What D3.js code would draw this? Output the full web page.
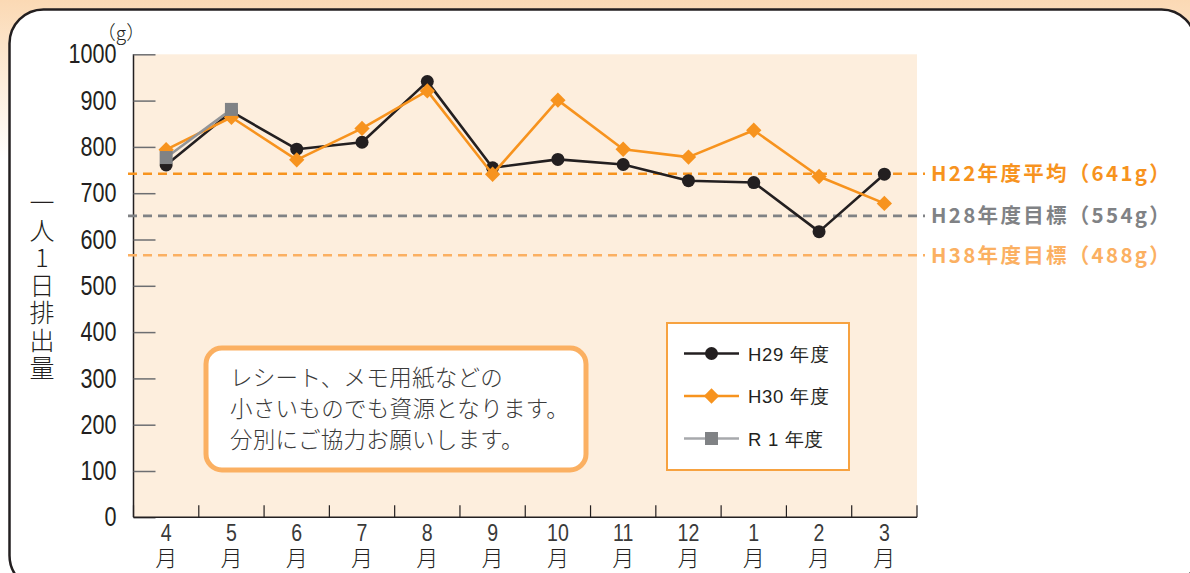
<!DOCTYPE html>
<html>
<head>
<meta charset="utf-8">
<script src="https://cdn.jsdelivr.net/npm/d3@7"></script>
<style>
  html, body { margin: 0; padding: 0; background: #fff; }
  svg { display: block; }
</style>
</head>
<body>
<svg id="chart" width="1190" height="573"></svg>
<script>
// data
var months = ['4', '5', '6', '7', '8', '9', '10', '11', '12', '1', '2', '3'];
var h29 = [761, 876, 795, 810, 941, 755, 773, 762, 727, 723, 617, 741];
var h30 = [794, 864, 772, 840, 921, 741, 901, 795, 778, 836, 736, 678];
var r1 = [777, 881];
var yTicks = [0, 100, 200, 300, 400, 500, 600, 700, 800, 900, 1000];
// dashed reference lines (position as drawn, label as printed)
var refValues = [742, 651, 566];
var refLabels = ['H22年度平均（641g）', 'H28年度目標（554g）', 'H38年度目標（488g）'];
var refColors = ['#f7931e', '#808285', '#fbb062'];
var seriesNames = ['H29 年度', 'H30 年度', 'R 1 年度'];
var noteLines = ['レシート、メモ用紙などの', '小さいものでも資源となります。', '分別にご協力お願いします。'];
var yTitle = '一人1日排出量';

var svg = d3.select('#chart');
var W = 1190, H = 573;
// plot box (window.top is read-only, so no "top" here)
var plotLeft = 133.5, plotRight = 917, plotTop = 54.3, plotBottom = 517.3;

var cjk = '"Noto Sans CJK JP", sans-serif';
var latin = '"Liberation Sans", Arial, sans-serif';

// background gradient outside the frame
var defs = svg.append('defs');
var grad = defs.append('linearGradient').attr('id', 'bg').attr('x1', 0).attr('y1', 0).attr('x2', 0).attr('y2', 1);
grad.append('stop').attr('offset', '0%').attr('stop-color', '#fbd9b4');
grad.append('stop').attr('offset', '28%').attr('stop-color', '#ffffff');
svg.append('rect').attr('width', W).attr('height', H).attr('fill', 'url(#bg)');

// rounded frame
svg.append('rect')
	.attr('x', 9.5).attr('y', 9.5)
	.attr('width', 1186).attr('height', 580)
	.attr('rx', 34).attr('ry', 34)
	.attr('fill', '#fff')
	.attr('stroke', '#231f20')
	.attr('stroke-width', 2.5);

var x = d3.scaleBand().domain(months.map(function(m, i) { return i; })).range([plotLeft, plotRight]);
var y = d3.scaleLinear().domain([0, 1000]).range([plotBottom, plotTop]);
function cx(d, i) { return x(i) + x.bandwidth() / 2; }

// plot background
svg.append('rect')
	.attr('x', plotLeft).attr('y', plotTop)
	.attr('width', plotRight - plotLeft).attr('height', plotBottom - plotTop)
	.attr('fill', '#fdeedd');

// y axis
var yAxis = svg.append('g')
	.attr('transform', 'translate(' + plotLeft + ',0)')
	.call(d3.axisRight(y).tickValues(yTicks).tickSize(22).tickFormat(d3.format('d')));
yAxis.select('.domain').attr('stroke', '#231f20').attr('stroke-width', 1.5).attr('d', 'M0,' + plotTop + 'V' + plotBottom);
yAxis.selectAll('.tick line').attr('stroke', '#6d6e71').attr('stroke-width', 1.5);
yAxis.selectAll('.tick text')
	.attr('x', -17 / 0.8)
	.attr('text-anchor', 'end')
	.attr('transform', 'scale(0.8,1)')
	.attr('font-family', latin)
	.attr('font-size', 27)
	.attr('fill', '#231f20');

// x axis
var xAxis = svg.append('g')
	.attr('transform', 'translate(0,' + plotBottom + ')');
xAxis.append('line')
	.attr('x1', plotLeft).attr('x2', plotRight)
	.attr('stroke', '#231f20').attr('stroke-width', 1.5);
xAxis.selectAll('line.tk')
	.data(d3.range(months.length + 1))
	.enter().append('line')
	.attr('class', 'tk')
	.attr('x1', function(i) { return i < months.length ? x(i) : plotRight; })
	.attr('x2', function(i) { return i < months.length ? x(i) : plotRight; })
	.attr('y1', 0).attr('y2', -12)
	.attr('stroke', '#231f20').attr('stroke-width', 1.2);
var xl = xAxis.selectAll('g.lbl')
	.data(months)
	.enter().append('g')
	.attr('class', 'lbl')
	.attr('transform', function(d, i) { return 'translate(' + cx(d, i) + ',0)'; });
xl.append('text')
	.attr('transform', 'scale(0.85,1)')
	.attr('y', 24)
	.attr('text-anchor', 'middle')
	.attr('font-family', latin)
	.attr('font-size', 23)
	.attr('fill', '#3a3a3a')
	.text(function(d) { return d; });
xl.append('text')
	.attr('y', 49)
	.attr('text-anchor', 'middle')
	.attr('font-family', cjk)
	.attr('font-weight', 300)
	.attr('font-size', 22)
	.attr('fill', '#231f20')
	.text('月');

// unit
svg.append('text')
	.attr('x', 121).attr('y', 40)
	.attr('text-anchor', 'middle')
	.attr('font-family', cjk)
	.attr('font-weight', 300)
	.attr('font-size', 19)
	.attr('fill', '#231f20')
	.text('（g）');

// vertical y title
svg.append('g').selectAll('text')
	.data(yTitle.split(''))
	.enter().append('text')
	.attr('x', 42)
	.attr('y', function(d, i) { return 212 + i * 27.5; })
	.attr('text-anchor', 'middle')
	.attr('font-family', cjk)
	.attr('font-weight', 300)
	.attr('font-size', 25)
	.attr('fill', '#231f20')
	.text(function(d) { return d; });

// reference dashed lines
var refs = svg.append('g').selectAll('g')
	.data(refValues)
	.enter().append('g');
refs.append('line')
	.attr('x1', 128).attr('x2', 925)
	.attr('y1', function(d) { return y(d); })
	.attr('y2', function(d) { return y(d); })
	.attr('stroke', function(d, i) { return refColors[i]; })
	.attr('stroke-width', 2.6)
	.attr('stroke-dasharray', '9,6');
refs.append('text')
	.attr('x', 931)
	.attr('y', function(d) { return y(d) + 7.5; })
	.attr('font-family', cjk)
	.attr('font-weight', 'bold')
	.attr('font-size', 20.5)
	.attr('letter-spacing', 2.3)
	.attr('fill', function(d, i) { return refColors[i]; })
	.text(function(d, i) { return refLabels[i]; });

// series
var line = d3.line().x(cx).y(function(d) { return y(d); });
var diamond = d3.symbol().type(d3.symbolDiamond2).size(150);

function drawSeries(values, color, width) {
	svg.append('path')
		.datum(values)
		.attr('fill', 'none')
		.attr('stroke', color)
		.attr('stroke-width', width)
		.attr('stroke-linejoin', 'round')
		.attr('d', line);
}

drawSeries(h29, '#231f20', 2.6);
svg.append('g').selectAll('circle')
	.data(h29)
	.enter().append('circle')
	.attr('cx', cx)
	.attr('cy', function(d) { return y(d); })
	.attr('r', 6.5)
	.attr('fill', '#231f20');

drawSeries(h30, '#f7931e', 2.6);
svg.append('g').selectAll('path')
	.data(h30)
	.enter().append('path')
	.attr('d', diamond)
	.attr('transform', function(d, i) { return 'translate(' + cx(d, i) + ',' + y(d) + ')'; })
	.attr('fill', '#f7931e');

drawSeries(r1, '#939598', 2.6);
svg.append('g').selectAll('rect')
	.data(r1)
	.enter().append('rect')
	.attr('x', function(d, i) { return cx(d, i) - 6.5; })
	.attr('y', function(d) { return y(d) - 6.5; })
	.attr('width', 13).attr('height', 13)
	.attr('fill', '#808285');

// legend
var legend = svg.append('g').attr('transform', 'translate(667,323)');
legend.append('rect')
	.attr('width', 182).attr('height', 147)
	.attr('fill', '#fff')
	.attr('stroke', '#f7a240')
	.attr('stroke-width', 2);
var legColors = ['#231f20', '#f7931e', '#a7a9ac'];
var rows = legend.selectAll('g.row')
	.data(seriesNames)
	.enter().append('g')
	.attr('class', 'row')
	.attr('transform', function(d, i) { return 'translate(0,' + (30.5 + i * 42.5) + ')'; });
rows.append('line')
	.attr('x1', 17).attr('x2', 72)
	.attr('stroke', function(d, i) { return legColors[i]; })
	.attr('stroke-width', 2.5);
rows.each(function(d, i) {
	var g = d3.select(this);
	if (i === 0) {
		g.append('circle').attr('cx', 44.5).attr('r', 6.5).attr('fill', '#231f20');
	} else if (i === 1) {
		g.append('path').attr('d', diamond).attr('transform', 'translate(44.5,0)').attr('fill', '#f7931e');
	} else {
		g.append('rect').attr('x', 38).attr('y', -6.5).attr('width', 13).attr('height', 13).attr('fill', '#808285');
	}
});
rows.append('text')
	.attr('x', 81).attr('y', 7)
	.attr('font-family', latin)
	.attr('font-size', 18.5)
	.attr('letter-spacing', 0.7)
	.attr('fill', '#231f20')
	.text(function(d) { return d; });

// note box
var note = svg.append('g').attr('transform', 'translate(206,348)');
note.append('rect')
	.attr('width', 380).attr('height', 122)
	.attr('rx', 16).attr('ry', 16)
	.attr('fill', '#fff')
	.attr('stroke', '#fbb062')
	.attr('stroke-width', 5);
note.selectAll('text')
	.data(noteLines)
	.enter().append('text')
	.attr('x', 24)
	.attr('y', function(d, i) { return 38 + i * 31; })
	.attr('font-family', cjk)
	.attr('font-weight', 300)
	.attr('font-size', 22.5)
	.attr('letter-spacing', 0.3)
	.attr('fill', '#3a3a3a')
	.text(function(d) { return d; });
</script>
</body>
</html>
